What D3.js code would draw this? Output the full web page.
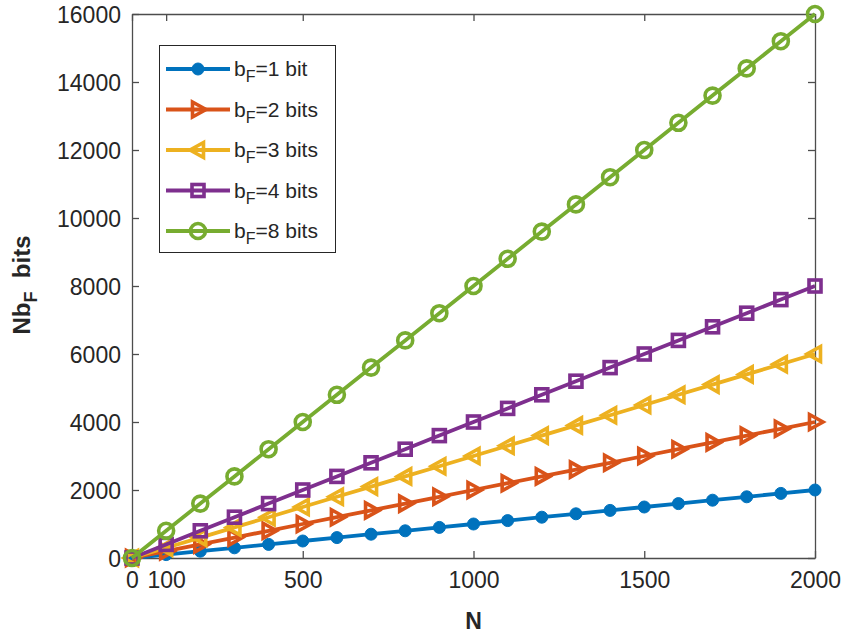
<!DOCTYPE html>
<html>
<head>
<meta charset="utf-8">
<script src="https://cdn.jsdelivr.net/npm/d3@7"></script>
<style>
  body { margin: 0; background: #fff; }
  text { font-family: "Liberation Sans", Arial, Helvetica, sans-serif; fill: #262626; }
</style>
</head>
<body>
<div id="chart"></div>
<script>

// x values (N)
var nValues = [0, 100, 200, 300, 400, 500, 600, 700, 800, 900, 1000,
  1100, 1200, 1300, 1400, 1500, 1600, 1700, 1800, 1900, 2000];

// Nb_F for each bit width
var bits1 = [0, 100, 200, 300, 400, 500, 600, 700, 800, 900, 1000,
  1100, 1200, 1300, 1400, 1500, 1600, 1700, 1800, 1900, 2000];
var bits2 = [0, 200, 400, 600, 800, 1000, 1200, 1400, 1600, 1800, 2000,
  2200, 2400, 2600, 2800, 3000, 3200, 3400, 3600, 3800, 4000];
var bits3 = [0, 300, 600, 900, 1200, 1500, 1800, 2100, 2400, 2700, 3000,
  3300, 3600, 3900, 4200, 4500, 4800, 5100, 5400, 5700, 6000];
var bits4 = [0, 400, 800, 1200, 1600, 2000, 2400, 2800, 3200, 3600, 4000,
  4400, 4800, 5200, 5600, 6000, 6400, 6800, 7200, 7600, 8000];
var bits8 = [0, 800, 1600, 2400, 3200, 4000, 4800, 5600, 6400, 7200, 8000,
  8800, 9600, 10400, 11200, 12000, 12800, 13600, 14400, 15200, 16000];

var seriesNames = ["1 bit", "2 bits", "3 bits", "4 bits", "8 bits"];
var xTicks = [0, 100, 500, 1000, 1500, 2000];
var yTicks = [0, 2000, 4000, 6000, 8000, 10000, 12000, 14000, 16000];

var series = [
  { name: seriesNames[0], values: bits1, color: "#0072BD", marker: "dot" },
  { name: seriesNames[1], values: bits2, color: "#D95319", marker: "right" },
  { name: seriesNames[2], values: bits3, color: "#EDB120", marker: "left" },
  { name: seriesNames[3], values: bits4, color: "#7E2F8E", marker: "square" },
  { name: seriesNames[4], values: bits8, color: "#77AC30", marker: "circle" }
];

var width = 845, height = 637;
var margin = { left: 132, right: 30, top: 14, bottom: 79 };

var svg = d3.select("#chart").append("svg")
  .attr("width", width)
  .attr("height", height);

var x = d3.scaleLinear().domain([0, 2000]).range([margin.left, width - margin.right]);
var y = d3.scaleLinear().domain([0, 16000]).range([height - margin.bottom, margin.top]);

var axisColor = "#4d4d4d";
var tickLen = 7;

// axes: ticks pointing inward, box all round
var bottomAxis = svg.append("g")
  .attr("transform", "translate(0," + y(0) + ")")
  .call(d3.axisBottom(x).tickValues(xTicks).tickFormat(d3.format("d")).tickSizeInner(-tickLen).tickSizeOuter(0).tickPadding(14));
var leftAxis = svg.append("g")
  .attr("transform", "translate(" + x(0) + ",0)")
  .call(d3.axisLeft(y).tickValues(yTicks).tickFormat(d3.format("d")).tickSizeInner(-tickLen).tickSizeOuter(0).tickPadding(11));
var topAxis = svg.append("g")
  .attr("transform", "translate(0," + y(16000) + ")")
  .call(d3.axisTop(x).tickValues(xTicks).tickSizeInner(-tickLen).tickSizeOuter(0).tickFormat(""));
var rightAxis = svg.append("g")
  .attr("transform", "translate(" + x(2000) + ",0)")
  .call(d3.axisRight(y).tickValues(yTicks).tickSizeInner(-tickLen).tickSizeOuter(0).tickFormat(""));

[bottomAxis, leftAxis, topAxis, rightAxis].forEach(function(a) {
  a.selectAll("path.domain").attr("stroke", axisColor).attr("stroke-width", 1.3);
  a.selectAll(".tick line").attr("stroke", axisColor).attr("stroke-width", 1.3);
  a.selectAll(".tick text")
    .style("font-family", "'Liberation Sans', Arial, sans-serif")
    .style("font-size", "23px")
    .attr("fill", "#262626");
});
leftAxis.selectAll(".tick text").attr("dy", "0.36em");

// axis labels
svg.append("text")
  .attr("x", x(1000))
  .attr("y", 629)
  .attr("text-anchor", "middle")
  .style("font-size", "23px")
  .style("font-weight", "bold")
  .text("N");

var yLabel = svg.append("text")
  .attr("transform", "translate(30," + 285 + ") rotate(-90)")
  .attr("text-anchor", "middle")
  .style("font-size", "24px")
  .style("font-weight", "bold");
yLabel.append("tspan").text("Nb");
yLabel.append("tspan").attr("dy", 7).style("font-size", "18px").text("F");
yLabel.append("tspan").attr("dy", -7).attr("xml:space", "preserve").text("  bits");

// marker drawing
function drawMarker(g, type, color, cx, cy) {
  if (type === "dot") {
    g.append("circle").attr("cx", cx).attr("cy", cy).attr("r", 6)
      .attr("fill", color).attr("stroke", color).attr("stroke-width", 1);
  } else if (type === "circle") {
    g.append("circle").attr("cx", cx).attr("cy", cy).attr("r", 7.5)
      .attr("fill", "none").attr("stroke", color).attr("stroke-width", 3.6);
  } else if (type === "square") {
    g.append("rect").attr("x", cx - 6).attr("y", cy - 6).attr("width", 12).attr("height", 12)
      .attr("fill", "none").attr("stroke", color).attr("stroke-width", 3.6);
  } else if (type === "right") {
    g.append("path")
      .attr("d", "M" + (cx - 5.5) + "," + (cy - 7.5) + "L" + (cx + 8) + "," + cy + "L" + (cx - 5.5) + "," + (cy + 7.5) + "Z")
      .attr("fill", "none").attr("stroke", color).attr("stroke-width", 3.6).attr("stroke-linejoin", "miter");
  } else if (type === "left") {
    g.append("path")
      .attr("d", "M" + (cx + 5.5) + "," + (cy - 7.5) + "L" + (cx - 8) + "," + cy + "L" + (cx + 5.5) + "," + (cy + 7.5) + "Z")
      .attr("fill", "none").attr("stroke", color).attr("stroke-width", 3.6).attr("stroke-linejoin", "miter");
  }
}

var line = d3.line()
  .x(function(d, i) { return x(nValues[i]); })
  .y(function(d) { return y(d); });

series.forEach(function(s) {
  var g = svg.append("g");
  g.append("path")
    .attr("d", line(s.values))
    .attr("fill", "none")
    .attr("stroke", s.color)
    .attr("stroke-width", 3.8);
  s.values.forEach(function(v, i) {
    drawMarker(g, s.marker, s.color, x(nValues[i]), y(v));
  });
});

// legend
var legend = svg.append("g");
legend.append("rect")
  .attr("x", 159.5).attr("y", 45.5)
  .attr("width", 176).attr("height", 207)
  .attr("fill", "#fff")
  .attr("stroke", "#262626")
  .attr("stroke-width", 1);

series.forEach(function(s, i) {
  var ly = 69 + i * 40.5;
  var row = legend.append("g");
  row.append("line")
    .attr("x1", 166).attr("x2", 230)
    .attr("y1", ly).attr("y2", ly)
    .attr("stroke", s.color).attr("stroke-width", 3.8);
  drawMarker(row, s.marker, s.color, 198, ly);
  var t = row.append("text")
    .attr("x", 234).attr("y", ly + 7)
    .style("font-size", "21px");
  t.append("tspan").text("b");
  t.append("tspan").attr("dy", 6).style("font-size", "16px").text("F");
  t.append("tspan").attr("dy", -6).text("=" + s.name);
});

</script>
</body>
</html>
